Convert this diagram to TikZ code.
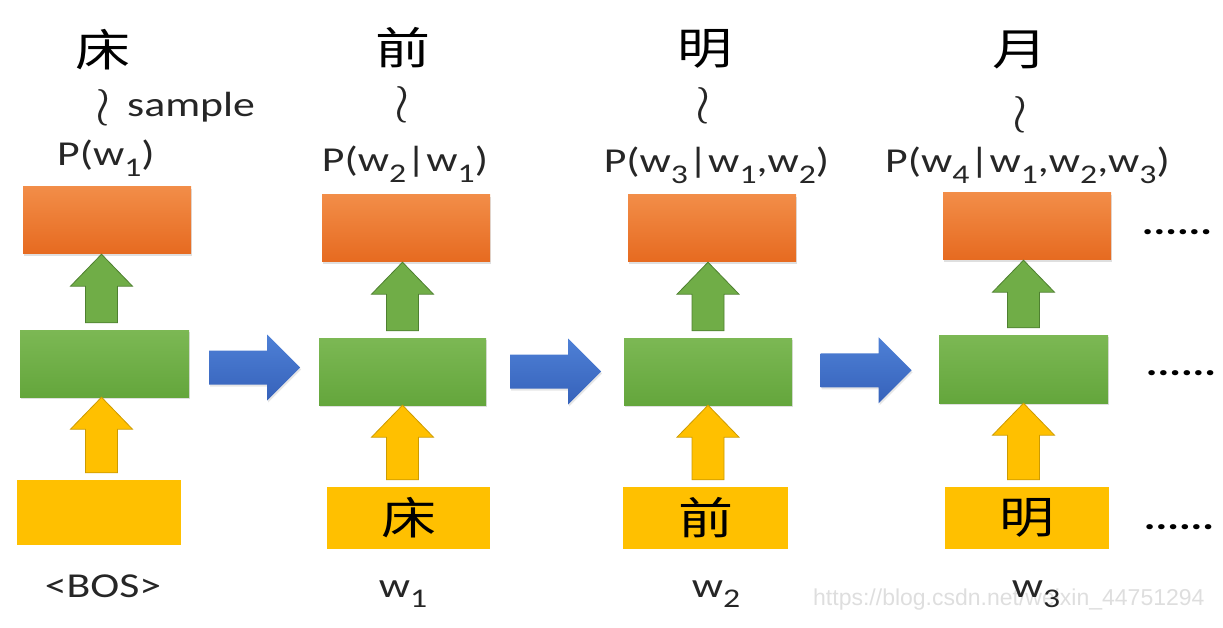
\documentclass[tikz,border=0pt]{standalone}
\usepackage{fontspec}
\setmainfont{Carlito}[FakeStretch=1.25]
\newfontfamily\cjk{Noto Sans CJK SC}[FakeStretch=1.25]
\newfontfamily\wmfont{Liberation Sans}
\usetikzlibrary{calc,shadows}

\definecolor{orT}{RGB}{242,141,72}
\definecolor{orB}{RGB}{230,106,32}
\definecolor{grT}{RGB}{124,184,84}
\definecolor{grB}{RGB}{100,166,60}
\definecolor{yel}{RGB}{255,192,0}
\definecolor{yelD}{RGB}{205,155,0}
\definecolor{garr}{RGB}{112,173,71}
\definecolor{garrD}{RGB}{78,128,48}
\definecolor{blT}{RGB}{78,128,214}
\definecolor{blB}{RGB}{54,98,186}
\definecolor{wmgray}{RGB}{222,222,222}

\newcommand\lowsub[1]{\raisebox{-0.3em}{\fontsize{27}{27}\selectfont #1}}
\newcommand\bigwr{\scalebox{2.2}{$\wr$}}

\newcommand\fatup[3]{% style, base point, tip point
  \path[#1] let \p1=(#2), \p2=(#3) in
    ({\x1-16pt},\y1) -- ({\x1+16pt},\y1) -- ({\x1+16pt},{\y2-32pt}) --
    ({\x1+31pt},{\y2-32pt}) -- (\x1,\y2) -- ({\x1-31pt},{\y2-32pt}) --
    ({\x1-16pt},{\y2-32pt}) -- cycle;}

\newcommand\fatright[3]{% style, from node, to node
  \path[#1] let \p1=(#2.east), \p2=(#3.west), \p3=($(\p1)!0.5!(\p2)$) in
    ({\x3-45pt},{\y3+17pt}) -- ({\x3+13pt},{\y3+17pt}) -- ({\x3+13pt},{\y3+33pt}) --
    ({\x3+46pt},\y3) -- ({\x3+13pt},{\y3-33pt}) -- ({\x3+13pt},{\y3-17pt}) --
    ({\x3-45pt},{\y3-17pt}) -- cycle;}

\tikzset{
  obox/.style={inner sep=0pt, top color=orT, bottom color=orB, draw=none,
    drop shadow={opacity=0.25, shadow xshift=1pt, shadow yshift=-2pt}},
  gbox/.style={inner sep=0pt, top color=grT, bottom color=grB, draw=none,
    drop shadow={opacity=0.25, shadow xshift=1pt, shadow yshift=-2pt}},
  ybox/.style={inner sep=0pt, fill=yel, draw=none, font=\cjk\fontsize{44}{44}\selectfont},
  garrow/.style={fill=garr, draw=garrD, line width=0.8pt},
  yarrow/.style={fill=yel, draw=yelD, line width=0.8pt},
  barrow/.style={top color=blT, bottom color=blB, draw=none,
    drop shadow={opacity=0.2, shadow xshift=1pt, shadow yshift=-2pt}},
  lbl/.style={inner sep=0pt, font=\fontsize{35}{40}\selectfont, text=black!85},
  dots/.style={inner sep=0pt, font=\bfseries\fontsize{35}{40}\selectfont, text=black},
  chr/.style={inner sep=0pt, font=\cjk\fontsize{44}{44}\selectfont},
  tld/.style={inner sep=0pt, font=\fontsize{35}{40}\selectfont, text=black!85},
}

\begin{document}
\begin{tikzpicture}[x=1pt, y=-1pt]
\useasboundingbox (0,0) rectangle (1223,628);

% boxes
\node[obox, minimum width=168pt, minimum height=67pt] (o1) at (107,220.5) {};
\node[gbox, minimum width=169pt, minimum height=67pt] (g1) at (104.5,363.5) {};
\node[ybox, minimum width=164pt, minimum height=65pt] (y1) at (99,512.5) {};

\node[obox, minimum width=168pt, minimum height=67pt] (o2) at (406,228.5) {};
\node[gbox, minimum width=167pt, minimum height=67pt] (g2) at (402.5,371.5) {};
\node[ybox, minimum width=163pt, minimum height=62pt] (y2) at (408.5,518) {床};

\node[obox, minimum width=168pt, minimum height=67pt] (o3) at (712,228.5) {};
\node[gbox, minimum width=168pt, minimum height=67pt] (g3) at (708,371.5) {};
\node[ybox, minimum width=165pt, minimum height=62pt] (y3) at (705.5,518) {前};

\node[obox, minimum width=168pt, minimum height=67pt] (o4) at (1027,226.5) {};
\node[gbox, minimum width=169pt, minimum height=68pt] (g4) at (1023.5,369) {};
\node[ybox, minimum width=164pt, minimum height=62pt] (y4) at (1027,518) {明};

% vertical arrows
\fatup{garrow}{$(g1.north)+(-3,-7)$}{o1.south}
\fatup{garrow}{$(g2.north)+(0,-7)$}{o2.south}
\fatup{garrow}{$(g3.north)+(0,-7)$}{o3.south}
\fatup{garrow}{$(g4.north)+(0,-7)$}{o4.south}

\fatup{yarrow}{$(y1.north -| g1.south)+(-3,-7)$}{g1.south}
\fatup{yarrow}{$(y2.north -| g2.south)+(0,-7)$}{g2.south}
\fatup{yarrow}{$(y3.north -| g3.south)+(0,-7)$}{g3.south}
\fatup{yarrow}{$(y4.north -| g4.south)+(0,-7)$}{g4.south}

% horizontal arrows
\fatright{barrow}{g1}{g2}
\fatright{barrow}{g2}{g3}
\fatright{barrow}{g3}{g4}

% top labels
\node[chr] (c1) at (103,50) {床};
\node[tld] (s1) at (103,108) {\bigwr};
\node[lbl, anchor=base west] (s1b) at (127,117) {sample};
\node[lbl, anchor=base] (p1) at (106,166) {P(w\lowsub{1})};

\node[chr] (c2) at (403,48) {前};
\node[tld] (s2) at (402,105) {\bigwr};
\node[lbl, anchor=base] (p2) at (405,172) {P(w\lowsub{2}|w\lowsub{1})};

\node[chr] (c3) at (705,49) {明};
\node[tld] (s3) at (703,106) {\bigwr};
\node[lbl, anchor=base] (p3) at (716.5,173) {P(w\lowsub{3}|w\lowsub{1},w\lowsub{2})};

\node[chr] (c4) at (1020,50) {月};
\node[tld] (s4) at (1020,115) {\bigwr};
\node[lbl, anchor=base] (p4) at (1027.5,173) {P(w\lowsub{4}|w\lowsub{1},w\lowsub{2},w\lowsub{3})};

% dots
\node[dots, anchor=base] (d1) at (1177,235) {......};
\node[dots, anchor=base] (d2) at (1181,375) {......};
\node[dots, anchor=base] (d3) at (1179,529) {......};

% watermark
\node[inner sep=0pt, anchor=base west, text=wmgray, font=\wmfont\fontsize{23}{23}\selectfont] (wm) at (813,605) {https://blog.csdn.net/weixin\_44751294};

% bottom labels
\node[lbl, anchor=base] (b1) at (103,597) {<BOS>};
\node[lbl, anchor=base] (b2) at (403,597) {w\lowsub{1}};
\node[lbl, anchor=base] (b3) at (716,597) {w\lowsub{2}};
\node[lbl, anchor=base] (b4) at (1036,597) {w\lowsub{3}};
\end{tikzpicture}
\end{document}
